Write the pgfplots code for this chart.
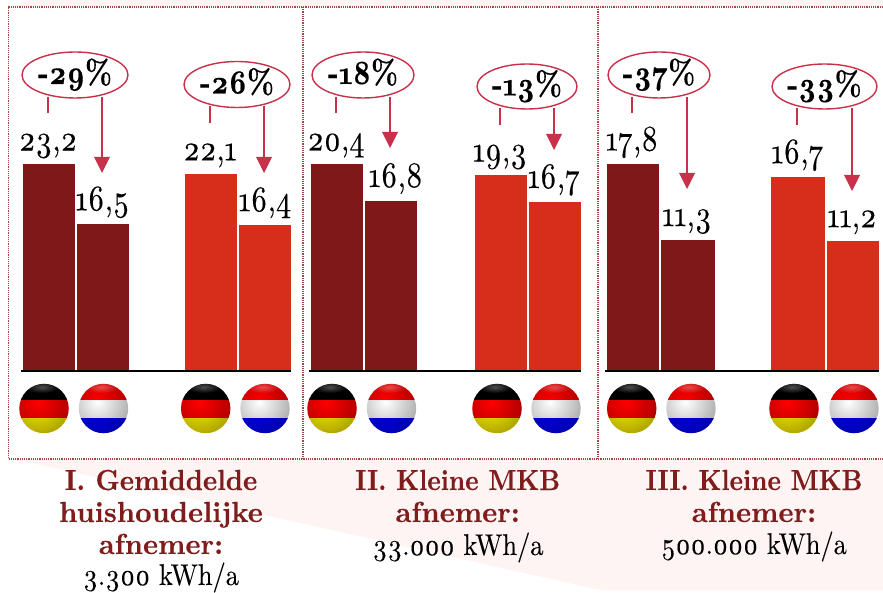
\documentclass[border=0pt]{standalone}
\usepackage{fontspec}
\setmainfont{lmroman10-regular}[Extension=.otf, BoldFont=lmroman10-bold, Numbers=OldStyle]
\newfontfamily\valfont{lmroman10-regular}[Extension=.otf, Numbers=OldStyle, FakeBold=0.25, FakeStretch=0.83]
\newfontfamily\subfont{lmroman10-regular}[Extension=.otf, Numbers=OldStyle, FakeBold=0.2, FakeStretch=0.88]
\newfontfamily\pctfont{lmroman10-bold}[Extension=.otf, Numbers=OldStyle, FakeBold=0.3, FakeStretch=0.83]
\newfontfamily\ttlfont{lmroman10-bold}[Extension=.otf, Numbers=OldStyle, FakeBold=0.25, FakeStretch=0.93]
\newfontfamily\ttlcaps{lmroman10-bold}[Extension=.otf, Numbers=OldStyle, FakeBold=0.25, FakeStretch=0.88]
\newfontfamily\ttllow{lmroman10-bold}[Extension=.otf, Numbers=OldStyle, FakeBold=0.25, FakeStretch=0.985]
\usepackage{pgfplots}
\pgfplotsset{compat=1.18}
\usetikzlibrary{fadings}
\definecolor{dkred}{HTML}{7F1818}
\definecolor{brred}{HTML}{D62E1B}
\definecolor{arrowred}{HTML}{C9304A}
\definecolor{titlered}{HTML}{7F1D1D}
\definecolor{pinkbg}{HTML}{FEF4F3}
\definecolor{frm}{HTML}{A84545}
\tikzfading[name=rimfade, inner color=transparent!100, outer color=transparent!65]
\tikzfading[name=spotfade, inner color=transparent!0, outer color=transparent!100]
\pgfplotsset{panel/.style={
  at={(0pt,221pt)}, anchor=south west, scale only axis, width=883pt, height=371pt,
  xmin=0, xmax=883, ymin=0, hide axis, clip=false,
  /pgf/number format/.cd, use comma, fixed, fixed zerofill, precision=1, assume math mode=true}}
\newcommand\vbar[5]{% x, value, width, colour, label x offset
  \addplot[ybar, bar shift=0pt, bar width=#3pt, fill=#4, draw=none,
    nodes near coords, every node near coord/.style={font=\fontsize{36}{36}\valfont,
      text=black, anchor=base, inner sep=0pt, yshift=13.5pt, xshift=#5pt}]
    coordinates {(#1,#2)};}
\newcommand\flagball[4]{%
  \begin{scope}
    \clip (#1,408.5) circle[radius=24.7];
    \fill[#2] (#1-26,383) rectangle (#1+26,400);
    \fill[#3] (#1-26,400) rectangle (#1+26,418);
    \fill[#4] (#1-26,418) rectangle (#1+26,435);
    \fill[black, path fading=rimfade, fit fading=true] (#1-6,402) circle[radius=36];
    \fill[white, opacity=.3, path fading=spotfade] (#1-2,387) ellipse[x radius=17, y radius=6];
  \end{scope}}
\newcommand\callout[5]{% cx cy rx ry text
  \draw[arrowred, line width=1.4pt, fill=white] (#1,#2) ellipse[x radius=#3, y radius=#4];
  \node[font=\fontsize{34}{34}\pctfont, anchor=base, inner sep=0pt] at (#1,#2+9) {#5};}
\newcommand\link[6]{% stubx y0 stubend arrowx y0 tip
  \draw[arrowred, line width=1.8pt] (#1,#2) -- (#1,#3);
  \draw[arrowred, line width=1.8pt] (#4,#5) -- (#4,#6-14);
  \fill[arrowred] (#4-8,#6-16) -- (#4+8,#6-16) -- (#4,#6) -- cycle;}
\begin{document}
\begin{tikzpicture}[x=1pt,y=1pt]
\useasboundingbox (0,0) rectangle (883,592);
\begin{scope}[shift={(0pt,592pt)},x=1pt,y=-1pt]
  \fill[pinkbg] (8,8) -- (30,0) -- (883,0) -- (883,590) -- (612,590)
     [rounded corners=5pt] -- (600,590) [sharp corners] -- (27,462) -- (8,459) -- cycle;
  \fill[white] (8.5,7) rectangle (883,459);
  \begin{scope}[frm, line width=1.2pt, densely dotted]
    \draw (883,7) -- (8.5,7) -- (8.5,459) -- (883,459);
    \draw (303,7) -- (303,459);
    \draw (598,7) -- (598,459);
  \end{scope}
  \flagball{44}{black}{red}{yellow}   \flagball{103.5}{red}{white}{blue}
  \flagball{205.7}{black}{red}{yellow} \flagball{265}{red}{white}{blue}
  \flagball{332}{black}{red}{yellow}  \flagball{391.5}{red}{white}{blue}
  \flagball{497}{black}{red}{yellow}  \flagball{556}{red}{white}{blue}
  \flagball{631.7}{black}{red}{yellow} \flagball{691}{red}{white}{blue}
  \flagball{794}{black}{red}{yellow}  \flagball{854}{red}{white}{blue}
  \callout{75}{75}{53}{23}{-29\%}
  \callout{237}{84.5}{53}{23}{-26\%}
  \callout{363}{75}{51}{23}{-18\%}
  \callout{527}{86.5}{50}{22.5}{-13\%}
  \callout{659}{75}{51}{23}{-37\%}
  \callout{824.5}{86.5}{52.5}{22.5}{-33\%}
  \link{48}{97}{113}{102}{97}{173}
  \link{210}{106}{123}{264}{106}{173}
  \link{336}{97}{113}{390}{97}{148}
  \link{500}{108}{125}{554}{108}{150}
  \link{632}{97}{113}{687}{97}{189}
  \link{797}{108}{125}{852}{108}{191}
  \tikzset{ttl/.style={text=titlered, font=\fontsize{29}{29}\ttlfont, anchor=base, inner sep=0pt},
           ttc/.style={text=titlered, font=\fontsize{29}{29}\ttlcaps, anchor=base, inner sep=0pt},
           ttw/.style={text=titlered, font=\fontsize{29}{29}\ttllow, anchor=base, inner sep=0pt},
           sub/.style={text=black, font=\fontsize{30}{30}\subfont, anchor=base, inner sep=0pt}}
  \node[ttl] at (161,490) {I. Gemiddelde};
  \node[ttw] at (161,522) {huishoudelijke};
  \node[ttw] at (161,554) {afnemer:};
  \node[sub] at (161,585) {3.300 kWh/a};
  \node[ttc] at (457.7,490) {II. Kleine MKB};
  \node[ttw] at (457.7,522) {afnemer:};
  \node[sub] at (458,555) {33.000 kWh/a};
  \node[ttc] at (754,490) {III. Kleine MKB};
  \node[ttw] at (754,522) {afnemer:};
  \node[sub] at (754,554) {500.000 kWh/a};
\end{scope}
% panel I
\begin{axis}[panel, ymax=41.59]
  \vbar{49}{23.2}{52}{dkred}{-1}
  \vbar{103}{16.5}{52}{dkred}{-0.5}
  \vbar{211}{22.1}{52}{brred}{-1}
  \vbar{265}{16.4}{52}{brred}{0}
  \addplot[black, line width=1.7pt] coordinates {(21,0) (291,0)};
\end{axis}
% panel II
\begin{axis}[panel, ymax=36.56]
  \vbar{337}{20.4}{52}{dkred}{-1}
  \vbar{391}{16.8}{52}{dkred}{4.7}
  \vbar{501}{19.3}{52}{brred}{-1}
  \vbar{555}{16.7}{52}{brred}{-1}
  \addplot[black, line width=1.7pt] coordinates {(309,0) (581,0)};
\end{axis}
% panel III
\begin{axis}[panel, ymax=31.9]
  \vbar{633}{17.8}{52}{dkred}{-1}
  \vbar{688}{11.3}{54}{dkred}{-1}
  \vbar{798}{16.7}{54}{brred}{-0.5}
  \vbar{853}{11.2}{52}{brred}{-1}
  \addplot[black, line width=1.7pt] coordinates {(605,0) (879,0)};
\end{axis}
\end{tikzpicture}
\end{document}
